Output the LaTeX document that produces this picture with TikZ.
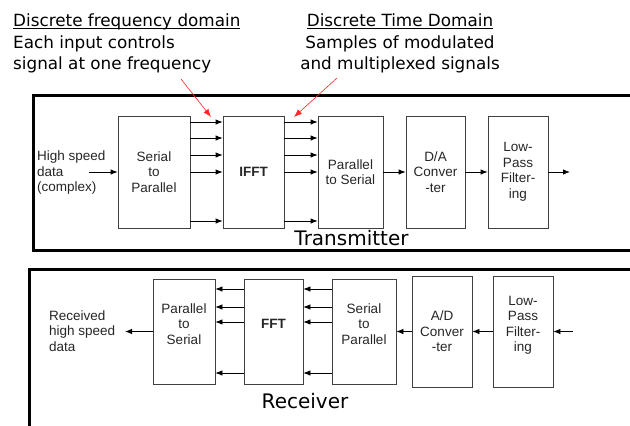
\documentclass[tikz,border=0pt]{standalone}
\usepackage{fontspec}
\setmainfont{Liberation Sans}
\newfontfamily\tahoma{DejaVu Sans}
\usepackage{tikz}
\usetikzlibrary{arrows.meta}
\newcommand\souligne[1]{\setbox0\hbox{#1}\rlap{\rule[-2.2pt]{\wd0}{0.9pt}}\box0}
\tikzset{
  bloc/.style={draw=black!75, line width=0.8pt, align=center, inner sep=1pt,
               text=black!85, font=\fontsize{13.5}{15.5}\selectfont},
  gras/.style={font=\fontsize{13.5}{15.5}\selectfont\bfseries},
  txt/.style={align=left, inner sep=0pt, text=black!85, font=\fontsize{13.5}{15.5}\selectfont},
  titre/.style={inner sep=0pt, font=\tahoma\fontsize{16.8}{21.5}\selectfont},
  fl/.style={-{Latex[length=7pt,width=5.5pt]}, line width=0.8pt},
  flr/.style={-{Latex[length=8pt,width=6pt]}, red!85, line width=0.6pt},
  cadre/.style={line width=3pt}
}

\begin{document}
\begin{tikzpicture}[x=1pt,y=-1pt]
\useasboundingbox (0,0) rectangle (630,426);
\clip (0,0) rectangle (630,426);
\draw[cadre] (33,95) rectangle (650,250);
\draw[cadre] (29,269) rectangle (650,450);
\node[titre, anchor=north west, align=left] (h1) at (13,14) {\souligne{Discrete frequency domain}\\Each input controls\\signal at one frequency};
\node[titre, anchor=north, align=center] (h2) at (400,14) {\souligne{Discrete Time Domain}\\Samples of modulated\\and multiplexed signals};
\node[bloc, minimum width=72pt, minimum height=112pt] (sp) at (154,172) {Serial\\to\\Parallel};
\node[bloc, gras, minimum width=61pt, minimum height=112pt] (ifft) at (253.5,172) {IFFT};
\node[bloc, minimum width=65pt, minimum height=112pt] (ps) at (350.5,172) {Parallel\\to Serial};
\node[bloc, minimum width=59pt, minimum height=112pt] (da) at (435.5,172) {D/A\\Conver\\-ter};
\node[bloc, minimum width=60pt, minimum height=112pt] (lpf) at (518,172) {Low-\\Pass\\Filter-\\ing};
\node[txt, anchor=west] (hs) at (37,173) {High speed\\data\\(complex)};
\coordinate (in) at (89,172);
\coordinate (out) at (570,172);
\draw[fl] (in) -- (sp);
\foreach \o in {50,34,17,0,-49}{
  \draw[fl] ([yshift=\o pt]sp.east) -- ([yshift=\o pt]ifft.west);
  \draw[fl] ([yshift=\o pt]ifft.east) -- ([yshift=\o pt]ps.west);
}
\draw[fl] (ps) -- (da);
\draw[fl] (da) -- (lpf);
\draw[fl] (lpf) -- (out);
\coordinate (f1) at (181,79);
\coordinate (t1) at (211,117);
\coordinate (f2) at (337,78);
\coordinate (t2) at (294,117);
\draw[flr] (f1) -- (t1);
\draw[flr] (f2) -- (t2);
\node[anchor=base, inner sep=0pt, font=\tahoma\fontsize{20}{24}\selectfont] (tx) at (351.5,245) {Transmitter};
\node[bloc, minimum width=62pt, minimum height=105pt] (rps) at (184,331.5) {Parallel\\to\\Serial\\\mbox{}};
\node[bloc, gras, minimum width=59pt, minimum height=105pt] (fft) at (273.5,331.5) {FFT\\\mbox{}};
\node[bloc, minimum width=64pt, minimum height=105pt] (rsp) at (364,331.5) {Serial\\to\\Parallel\\\mbox{}};
\node[bloc, minimum width=60pt, minimum height=111pt] (ad) at (442,331.5) {A/D\\Conver\\-ter};
\node[bloc, minimum width=60pt, minimum height=111pt] (rlpf) at (523,331.5) {Low-\\Pass\\Filter-\\ing\\\mbox{}};
\node[txt, anchor=west] (rd) at (49,331) {Received\\high speed\\data};
\coordinate (rin) at (573,331.5);
\coordinate (rout) at (125,331.5);
\draw[fl] (rin) -- (rlpf);
\draw[fl] (rlpf) -- (ad);
\draw[fl] (ad) -- (rsp);
\foreach \o in {42.5,24.5,9.5,-41.5}{
  \draw[fl] ([yshift=\o pt]rsp.west) -- ([yshift=\o pt]fft.east);
  \draw[fl] ([yshift=\o pt]fft.west) -- ([yshift=\o pt]rps.east);
}
\draw[fl] (rps) -- (rout);
\node[anchor=base, inner sep=0pt, font=\tahoma\fontsize{20}{24}\selectfont] (rx) at (305,408) {Receiver};
\end{tikzpicture}
\end{document}
